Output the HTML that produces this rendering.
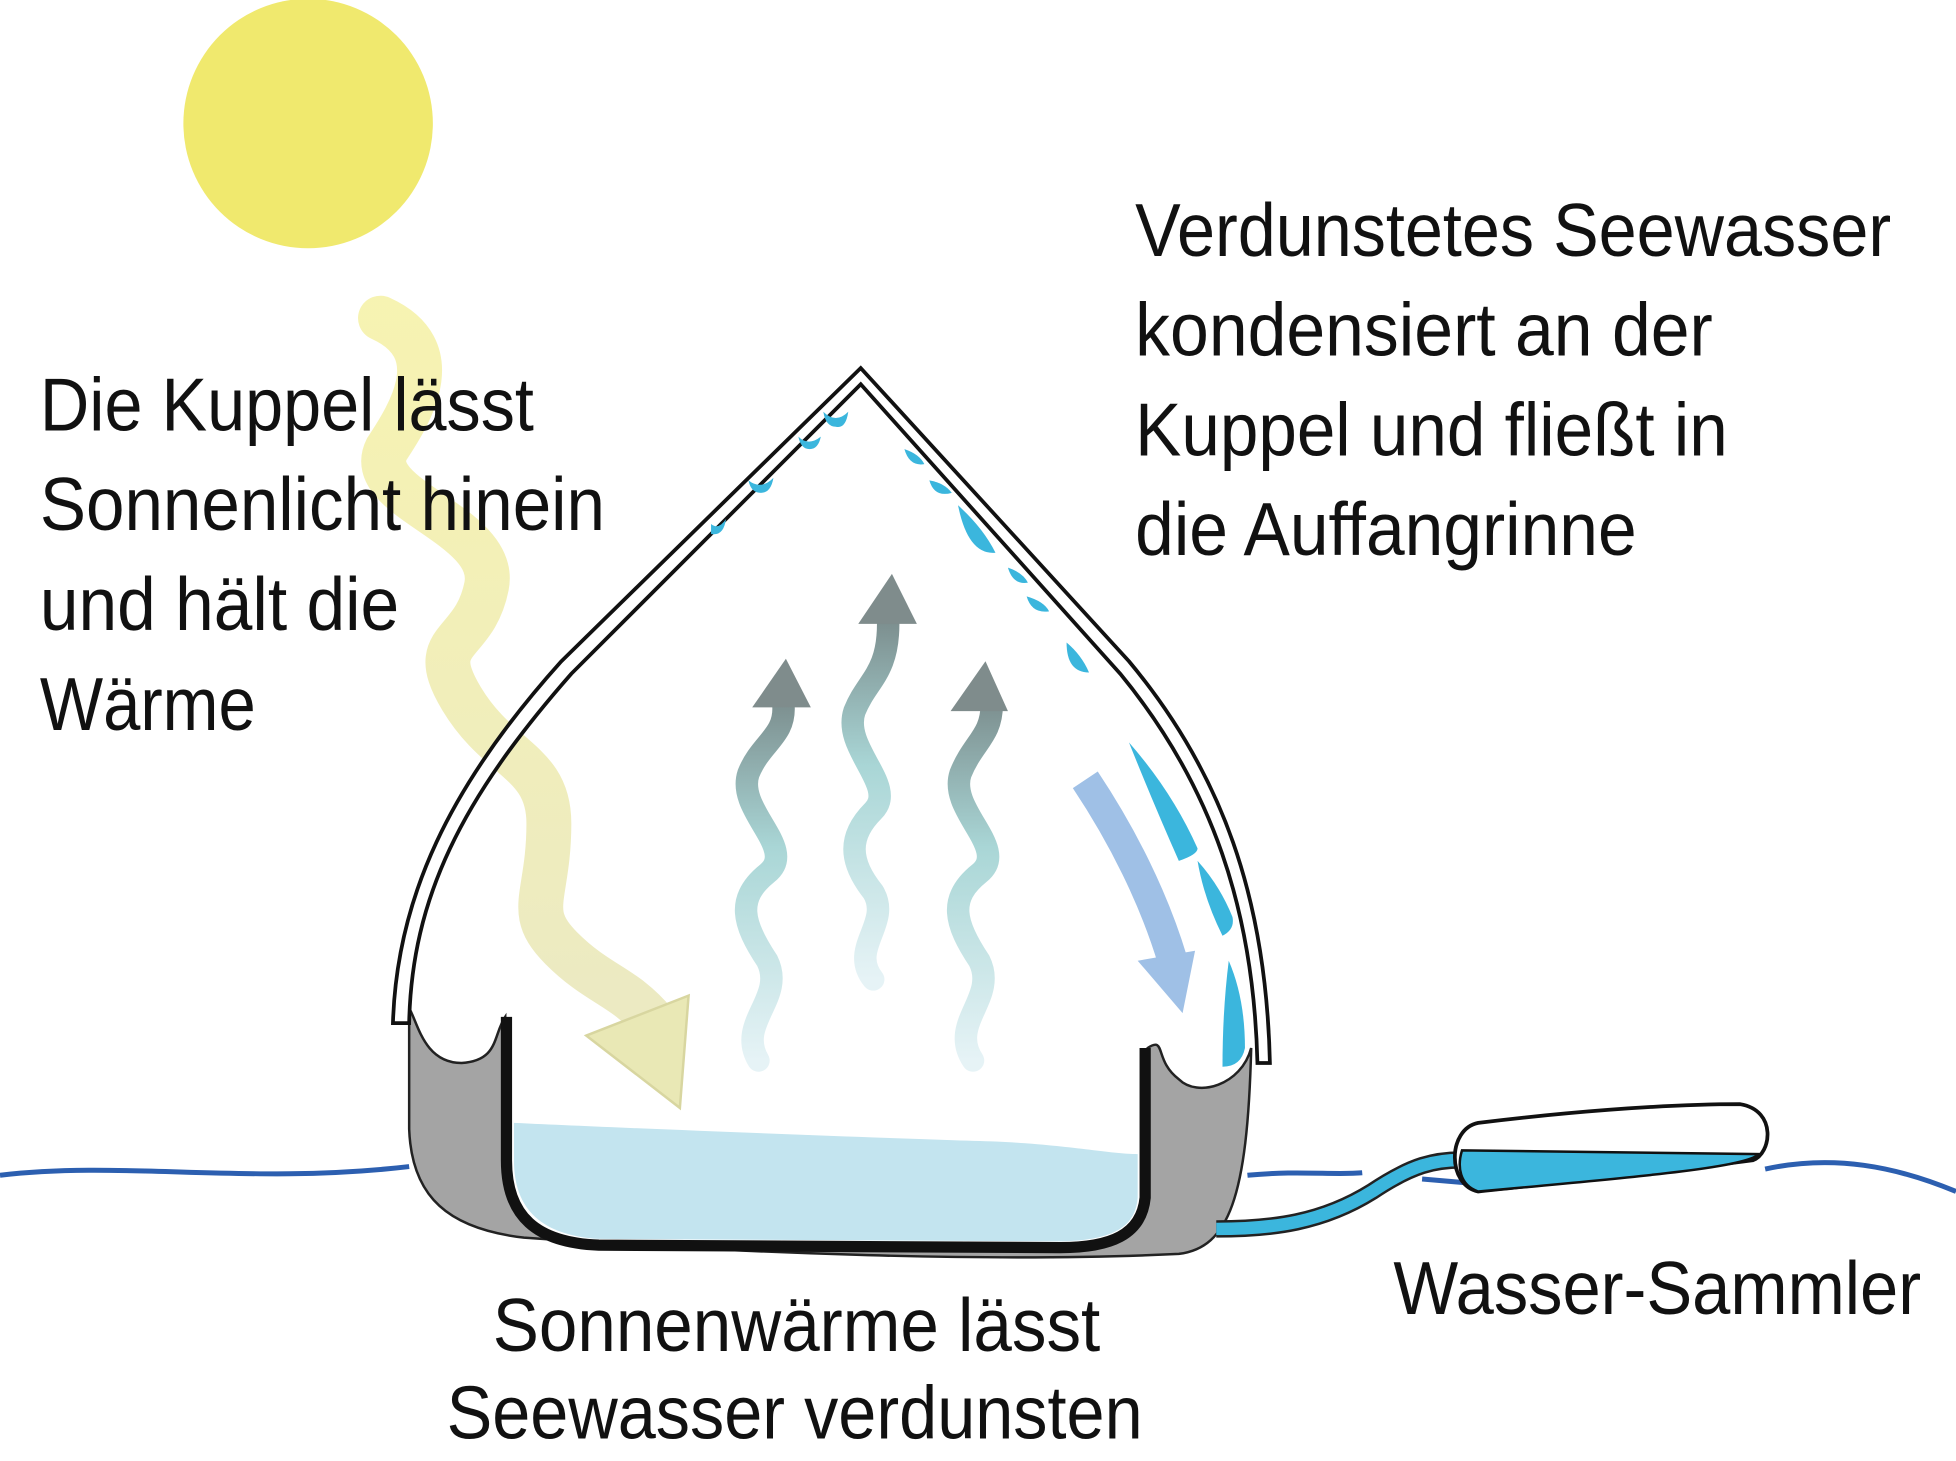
<!DOCTYPE html>
<html><head><meta charset="utf-8"><style>
html,body{margin:0;padding:0;background:#fff;}
svg{display:block;}
text{font-family:"Liberation Sans Narrow","Liberation Sans",sans-serif;font-size:60px;fill:#111;}
</style></head><body>
<svg width="1956" height="1461" viewBox="0 0 1568 1171" preserveAspectRatio="none" xmlns="http://www.w3.org/2000/svg">
<defs>
<linearGradient id="sun" x1="0" y1="0" x2="0" y2="1">
<stop offset="0" stop-color="#f4ef9a" stop-opacity="0.9"/>
<stop offset="1" stop-color="#e8e6b8"/>
</linearGradient>
<linearGradient id="steam" x1="0" y1="1" x2="0" y2="0">
<stop offset="0" stop-color="#e6f3f6"/>
<stop offset="0.6" stop-color="#a9d6d6"/>
<stop offset="1" stop-color="#7d9090"/>
</linearGradient>
</defs>
<rect width="1568" height="1171" fill="#fff"/>
<circle cx="247" cy="99" r="100" fill="#f0e96e"/>

<!-- sunlight wavy arrow -->
<path d="M305,255 C360,280 330,330 310,360 C290,400 400,420 390,470 C380,520 340,510 370,560 C400,610 440,610 440,660 C440,720 420,730 450,760 C480,790 500,790 525,820" fill="none" stroke="url(#sun)" stroke-width="36" stroke-linecap="round" opacity="0.85"/>
<polygon points="470,830 552,798 545,888" fill="#e9e8b5" stroke="#d8d6a0" stroke-width="2"/>

<!-- sea lines -->
<path d="M0,942 C100,930 200,950 328,935" fill="none" stroke="#2c5fb0" stroke-width="4"/>
<path d="M1000,942 C1040,938 1070,942 1092,940" fill="none" stroke="#2c5fb0" stroke-width="4"/>
<path d="M1140,945 L1175,948" fill="none" stroke="#2c5fb0" stroke-width="4"/>
<path d="M1415,937 C1470,925 1520,935 1568,955" fill="none" stroke="#2c5fb0" stroke-width="4"/>

<!-- basin -->
<path d="M328,808 L328,905 C330,960 360,985 420,992 C600,1005 800,1012 945,1005 C985,1000 1000,960 1003,840 C995,870 960,880 945,865 C925,850 935,830 920,840 L918,960 C915,990 890,1000 850,1000 L480,998 C430,996 405,975 405,930 L405,815 C395,830 400,850 370,852 C340,852 335,820 328,808 Z" fill="#a4a4a4" stroke="#222" stroke-width="2"/>
<path d="M412,900 C520,905 700,912 800,915 C860,918 890,925 912,925 L912,960 C910,985 890,994 850,995 L480,993 C435,990 412,970 412,930 Z" fill="#c3e4ef"/>
<path d="M406,815 L406,930 C406,975 430,996 480,998 L850,1000 C890,1000 915,990 918,960 L918,840" fill="none" stroke="#111" stroke-width="9"/>

<!-- dome -->
<path d="M315,820 C318,720 360,630 450,530 L690,295 L905,530 C980,620 1015,720 1018,852 L1008,852 C1005,730 972,630 898,540 L690,308 L458,540 C370,640 330,720 328,820 Z" fill="#fff" stroke="#111" stroke-width="3"/>

<!-- droplets -->
<g fill="#3bb6dd">
<path d="M660,330 q10,10 20,0 q-2,14 -10,12 q-8,0 -10,-12z"/>
<path d="M640,350 q8,8 18,0 q-2,10 -9,10 q-7,0 -9,-10z"/>
<path d="M600,385 q10,8 20,-2 q-2,12 -10,12 q-8,0 -10,-10z"/>
<path d="M570,420 q6,5 12,-4 q-2,14 -12,12z"/>
<path d="M725,360 q4,14 16,12 q-4,-8 -16,-12z"/>
<path d="M745,385 q4,14 18,10 q-6,-8 -18,-10z"/>
<path d="M768,405 q8,40 30,38 q-10,-20 -30,-38z"/>
<path d="M808,455 q4,14 16,12 q-4,-8 -16,-12z"/>
<path d="M823,478 q4,14 18,12 q-4,-8 -18,-12z"/>
<path d="M855,515 q0,24 18,24 q-6,-14 -18,-24z"/>
<path d="M905,595 q20,50 40,95 q15,-5 15,-10 q-20,-45 -55,-85z"/>
<path d="M960,690 q5,30 20,60 q10,-5 8,-15 q-10,-25 -28,-45z"/>
<path d="M985,770 q-5,40 -5,85 q15,0 18,-15 q0,-40 -13,-70z"/>
</g>

<!-- blue arrow -->
<path d="M870,625 C900,670 925,720 940,770" fill="none" stroke="#9fc0e6" stroke-width="24"/>
<polygon points="912,770 958,762 948,812" fill="#9fc0e6"/>

<!-- steam arrows -->
<g fill="none" stroke="url(#steam)" stroke-width="18" stroke-linecap="round">
<path d="M608,850 C590,820 630,800 615,770 C595,740 590,720 615,700 C640,680 590,650 600,620 C610,595 630,590 628,565"/>
<path d="M700,785 C680,760 715,740 700,715 C680,690 680,670 700,650 C720,630 675,600 685,570 C695,545 712,540 712,500"/>
<path d="M780,850 C760,820 800,800 785,770 C765,740 760,720 785,700 C810,680 760,650 770,620 C780,595 795,590 795,565"/>
</g>
<polygon points="603,567 650,567 630,528" fill="#7f8c8c"/>
<polygon points="688,500 735,500 715,460" fill="#7f8c8c"/>
<polygon points="762,570 808,570 790,530" fill="#7f8c8c"/>

<!-- pipe and collector -->
<path d="M975,985 C1020,985 1060,980 1100,955 C1130,935 1150,928 1180,930" fill="none" stroke="#222" stroke-width="14"/>
<path d="M975,985 C1020,985 1060,980 1100,955 C1130,935 1150,928 1180,930" fill="none" stroke="#3bb6dd" stroke-width="10"/>
<path d="M1185,900 C1250,892 1330,885 1395,885 C1425,890 1420,925 1405,930 C1330,940 1250,948 1185,955 C1160,950 1160,905 1185,900 Z" fill="#fff" stroke="#111" stroke-width="3"/>
<path d="M1172,922 L1410,925 C1400,935 1330,942 1185,955 C1170,950 1168,935 1172,922 Z" fill="#3bb6dd" stroke="#111" stroke-width="2"/>

<!-- text -->
<text x="32" y="345" textLength="396" lengthAdjust="spacingAndGlyphs">Die Kuppel lässt</text>
<text x="32" y="425" textLength="453" lengthAdjust="spacingAndGlyphs">Sonnenlicht hinein</text>
<text x="32" y="505" textLength="288" lengthAdjust="spacingAndGlyphs">und hält die</text>
<text x="32" y="585" textLength="173" lengthAdjust="spacingAndGlyphs">Wärme</text>
<text x="910" y="205" textLength="606" lengthAdjust="spacingAndGlyphs">Verdunstetes Seewasser</text>
<text x="910" y="285" textLength="463" lengthAdjust="spacingAndGlyphs">kondensiert an der</text>
<text x="910" y="365" textLength="475" lengthAdjust="spacingAndGlyphs">Kuppel und fließt in</text>
<text x="910" y="445" textLength="402" lengthAdjust="spacingAndGlyphs">die Auffangrinne</text>
<text x="1117" y="1053" textLength="423" lengthAdjust="spacingAndGlyphs">Wasser-Sammler</text>
<text x="395" y="1083" textLength="487" lengthAdjust="spacingAndGlyphs">Sonnenwärme lässt</text>
<text x="358" y="1153" textLength="558" lengthAdjust="spacingAndGlyphs">Seewasser verdunsten</text>
</svg>
</body></html>
